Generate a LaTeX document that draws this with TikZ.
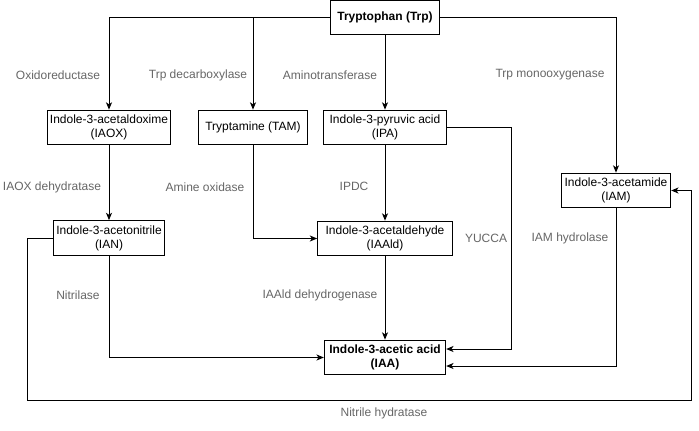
\documentclass[tikz,border=0pt]{standalone}
\usepackage{fontspec}
\setmainfont{Liberation Sans}
\usepackage{tikz}
\usetikzlibrary{arrows.meta}

\begin{document}
\begin{tikzpicture}[x=0.75pt,y=-0.75pt,font=\fontsize{9}{10.5}\selectfont]
\tikzset{box/.style = {shape=rectangle,draw,line width=0.75pt,minimum height=26pt,align=center,inner sep=1pt}}
\tikzset{edge/.style = {->,> = {Stealth[length=5.5pt,width=4.5pt,inset=1.5pt]},line width=0.75pt}}
\tikzset{enzyme/.style = {text=black!60,inner sep=1pt}}
\useasboundingbox (0,0) rectangle (699,431);
% vertices
\node[box,minimum width=82pt,font=\fontsize{9}{10.5}\selectfont\bfseries] (Trp) at (385,17.5) {Tryptophan (Trp)};
\node[box,minimum width=92pt] (IAOX) at (109,127.5) {Indole-3-acetaldoxime\\(IAOX)};
\node[box,minimum width=82pt] (TAM) at (253,127.5) {Tryptamine (TAM)};
\node[box,minimum width=92pt] (IPA) at (385,127.5) {Indole-3-pyruvic acid\\(IPA)};
\node[box,minimum width=83pt] (IAN) at (109,238) {Indole-3-acetonitrile\\(IAN)};
\node[box,minimum width=101pt] (IAAld) at (385,238.5) {Indole-3-acetaldehyde\\(IAAld)};
\node[box,minimum width=91pt,font=\fontsize{9}{10.5}\selectfont\bfseries] (IAA) at (385,357.5) {Indole-3-acetic acid\\(IAA)};
\node[box,minimum width=82pt] (IAM) at (616,190.5) {Indole-3-acetamide\\(IAM)};

% bends
\coordinate (cYuc) at (511,349);
\coordinate (cHyd) at (616,366);
\coordinate (cNL) at (27,400);
\coordinate (cNR) at (691,400);

\draw [edge] (Trp.west) -| (IAOX.north);
\draw [edge] (Trp.west) -| (TAM.north);
\draw [edge] (Trp.south) -- (IPA.north);
\draw [edge] (Trp.east) -| (IAM.north);
\draw [edge] (IAOX) -- (IAN);
\draw [edge] (TAM.south) |- (IAAld.west);
\draw [edge] (IPA) -- (IAAld);
\draw [edge] (IPA.east) -| (cYuc) -- (IAA.east |- cYuc);
\draw [edge] (IAAld) -- (IAA);
\draw [edge] (IAN.south) |- (IAA.west);
\draw [edge] (IAM.south) -- (cHyd) -- (IAA.east |- cHyd);
\draw [edge] (IAN.west) -| (cNL) -- (cNR) |- (IAM.east);

% enzymes
\node[enzyme] (eOx) at (58,75) {Oxidoreductase};
\node[enzyme] (eTdc) at (198,75) {Trp decarboxylase};
\node[enzyme] (eAmt) at (330,75) {Aminotransferase};
\node[enzyme] (eTmo) at (550,75) {Trp monooxygenase};
\node[enzyme] (eDeh) at (52,187) {IAOX dehydratase};
\node[enzyme] (eAmo) at (205,187) {Amine oxidase};
\node[enzyme] (eIpdc) at (354,186) {IPDC};
\node[enzyme] (eYuc) at (486,238) {YUCCA};
\node[enzyme] (eHyd) at (570,238) {IAM hydrolase};
\node[enzyme] (eNit) at (78,295) {Nitrilase};
\node[enzyme] (eAld) at (320,295) {IAAld dehydrogenase};
\node[enzyme] (eNhy) at (384,413) {Nitrile hydratase};

\end{tikzpicture}
\end{document}
